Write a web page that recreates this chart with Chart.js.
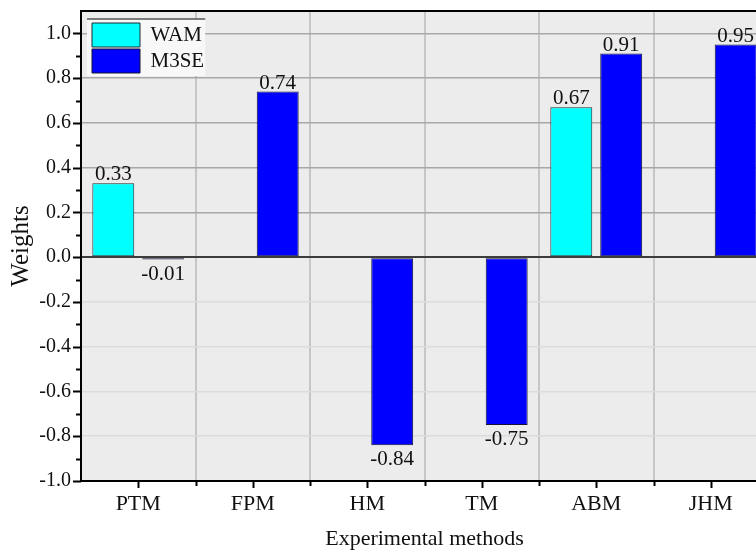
<!DOCTYPE html>
<html>
<head>
<meta charset="utf-8">
<script src="https://cdn.jsdelivr.net/npm/chart.js@4.4.0/dist/chart.umd.min.js"></script>
<style>
  html, body { margin: 0; padding: 0; overflow: hidden; background: #fff; }
  #wrap { position: relative; width: 800px; height: 552px; }
</style>
</head>
<body>
<div id="wrap"><canvas id="barChart"></canvas></div>
<script>
const categories = ['PTM', 'FPM', 'HM', 'TM', 'ABM', 'JHM'];
const wamValues = [0.33, null, null, null, 0.67, null];
const m3seValues = [-0.01, 0.74, -0.84, -0.75, 0.91, 0.95];
const seriesNames = ['WAM', 'M3SE'];

const SERIF = '"Liberation Serif", "Times New Roman", serif';

// fond gris de la zone de tracé + ligne du haut
const plotFrame = {
    id: 'plotFrame',
    beforeDraw(chart) {
        const { ctx, chartArea: a } = chart;
        ctx.save();
        ctx.fillStyle = '#ececec';
        ctx.fillRect(a.left, a.top, a.right - a.left, a.bottom - a.top);
        ctx.restore();
    },
    afterDraw(chart) {
        const { ctx, chartArea: a, scales } = chart;
        ctx.save();
        ctx.strokeStyle = '#000';
        ctx.lineWidth = 2;
        ctx.beginPath();
        ctx.moveTo(a.left - 1, a.top);
        ctx.lineTo(a.right, a.top);
        ctx.stroke();

        // graduations de l'axe Y (majeures et mineures)
        const y = scales.y;
        for (let k = -10; k <= 10; k++) {
            const py = Math.round(y.getPixelForValue(k / 10)) + 0.5;
            const len = k % 2 === 0 ? 8 : 5;
            ctx.beginPath();
            ctx.moveTo(a.left, py);
            ctx.lineTo(a.left - len, py);
            ctx.stroke();
        }
        // graduations de l'axe X
        const x = scales.x;
        categories.forEach((c, i) => {
            const px = Math.round(x.getPixelForValue(i)) + 0.5;
            ctx.beginPath();
            ctx.moveTo(px, a.bottom);
            ctx.lineTo(px, a.bottom + 7);
            ctx.stroke();
            const bx = Math.round(x.getPixelForValue(i + 0.5)) + 0.5;
            ctx.beginPath();
            ctx.moveTo(bx, a.bottom);
            ctx.lineTo(bx, a.bottom + 5);
            ctx.stroke();
        });
        ctx.restore();
    }
};

// valeurs au-dessus / en dessous des barres
const valueLabels = {
    id: 'valueLabels',
    afterDatasetsDraw(chart) {
        const { ctx } = chart;
        const fs = 21;
        ctx.save();
        ctx.font = fs + 'px ' + SERIF;
        ctx.fillStyle = '#111';
        ctx.textAlign = 'center';
        ctx.textBaseline = 'alphabetic';
        chart.data.datasets.forEach((ds, di) => {
            const meta = chart.getDatasetMeta(di);
            meta.data.forEach((bar, i) => {
                const v = ds.data[i];
                if (v === null || v === undefined) return;
                const txt = v.toFixed(2);
                if (v >= 0) {
                    ctx.fillText(txt, bar.x, bar.y - 3);
                } else {
                    ctx.fillText(txt, bar.x, bar.y + 6 + 0.676 * fs);
                }
            });
        });
        ctx.restore();
    }
};

// place la légende en haut à gauche et lui donne un fond clair
const legendBox = {
    id: 'legendBox',
    afterLayout(chart) {
        const lg = chart.legend;
        if (!lg || lg._boxed) return;
        const orig = lg.draw.bind(lg);
        lg.draw = function(area) {
            const ctx = chart.ctx;
            const hb = lg.legendHitBoxes || [];
            ctx.save();
            if (hb.length) {
                const dx = 92 - hb[0].left;
                const dy = 23 - hb[0].top;
                ctx.translate(dx, dy);
                const left = hb[0].left - 5;
                const top = hb[0].top - 4;
                const w = Math.max(...hb.map(h => h.width)) + 6;
                const last = hb[hb.length - 1];
                const h = last.top + last.height + 3 - top;
                ctx.fillStyle = '#f8f8f8';
                ctx.fillRect(left, top, w, h);
                ctx.strokeStyle = '#555';
                ctx.lineWidth = 1.5;
                ctx.beginPath();
                ctx.moveTo(left, top);
                ctx.lineTo(left + w, top);
                ctx.stroke();
            }
            orig(area);
            ctx.restore();
        };
        lg._boxed = true;
    }
};

const ctx = document.getElementById('barChart').getContext('2d');
new Chart(ctx, {
    type: 'bar',
    data: {
        labels: categories,
        datasets: [
            {
                label: seriesNames[0],
                data: wamValues,
                backgroundColor: '#00ffff',
                borderColor: '#1d2b33',
                borderWidth: 1,
                borderSkipped: false
            },
            {
                label: seriesNames[1],
                data: m3seValues,
                backgroundColor: '#0000ff',
                borderColor: '#141433',
                borderWidth: 1,
                borderSkipped: false
            }
        ]
    },
    options: {
        responsive: true,
        maintainAspectRatio: false,
        animation: false,
        layout: { padding: { top: 11, right: 32, bottom: 0, left: 0 } },
        datasets: {
            bar: { categoryPercentage: 0.872, barPercentage: 0.84 }
        },
        scales: {
            x: {
                afterFit(scale) {
                    scale.height = 71;
                    scale.paddingLeft = 0;
                    scale.paddingRight = 0;
                },
                grid: { color: '#c6c6c6', lineWidth: 2, drawTicks: false, offset: true },
                border: { color: '#000', width: 2 },
                ticks: { color: '#111', font: { family: SERIF, size: 22 }, padding: 10 },
                title: {
                    display: true,
                    text: 'Experimental methods',
                    color: '#111',
                    font: { family: SERIF, size: 22 },
                    padding: { top: 0, bottom: 0 }
                }
            },
            y: {
                min: -1.0,
                max: 1.1,
                afterFit(scale) {
                    scale.width = 81;
                    scale.paddingTop = 0;
                    scale.paddingBottom = 0;
                },
                grid: {
                    drawTicks: false,
                    color: c => {
                        const v = c.tick ? c.tick.value : 1;
                        if (Math.abs(v) < 1e-9) return '#3c3c3c';
                        return v > 0 ? '#a8a8a8' : '#dcdcdc';
                    },
                    lineWidth: c => (c.tick && Math.abs(c.tick.value) < 1e-9) ? 2 : 1.5
                },
                border: { color: '#000', width: 2 },
                ticks: {
                    stepSize: 0.2,
                    includeBounds: false,
                    color: '#111',
                    font: { family: SERIF, size: 20 },
                    padding: 10,
                    callback: v => Number(v).toFixed(1)
                },
                title: {
                    display: true,
                    text: 'Weights',
                    color: '#111',
                    font: { family: SERIF, size: 25 },
                    padding: { top: 6, bottom: 0 }
                }
            }
        },
        plugins: {
            legend: {
                display: true,
                position: 'chartArea',
                align: 'start',
                labels: {
                    boxWidth: 48,
                    boxHeight: 24,
                    padding: 2,
                    color: '#111',
                    font: { family: SERIF, size: 21, lineHeight: 1.14 }
                }
            },
            tooltip: { enabled: false }
        }
    },
    plugins: [plotFrame, valueLabels, legendBox]
});
</script>
</body>
</html>
